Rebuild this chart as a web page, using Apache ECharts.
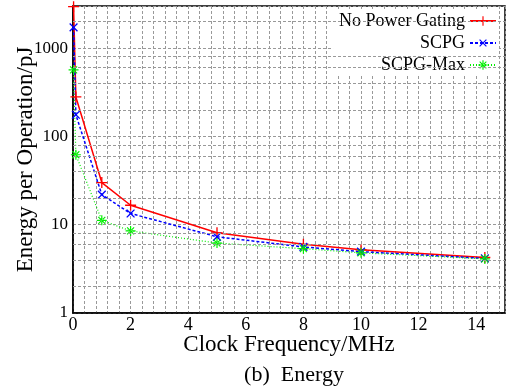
<!DOCTYPE html>
<html>
<head>
<meta charset="utf-8">
<script src="https://cdn.jsdelivr.net/npm/echarts@6/dist/echarts.min.js"></script>
<style>
  html, body { margin: 0; padding: 0; background: #fff; }
  #chart { width: 510px; height: 388px; }
</style>
</head>
<body>
<div id="chart"></div>
<script>
// clock frequency (MHz)
var freq = [0.02, 0.1, 1, 2, 5, 8, 10, 14.3];
// energy per operation (pJ)
var noGating = [2950, 280, 30, 16.6, 8.1, 6.0, 5.2, 4.25];
var scpg = [1720, 176, 21.9, 13.4, 7.3, 5.6, 4.95, 4.15];
var scpgMax = [567, 62, 11.2, 8.5, 6.2, 5.35, 4.8, 4.1];

var xTicks = [0, 2, 4, 6, 8, 10, 12, 14];
var yTicks = [1, 10, 100, 1000];
var yMinor = [2, 4, 6, 8, 20, 40, 60, 80, 200, 400, 600, 800, 2000];

var serif = '"Liberation Serif", "DejaVu Serif", serif';
var gridLine = { color: '#999', width: 1, type: [3, 2] };

// gnuplot style point shapes
var plusPath = 'path://M-0.6,-5H0.6V-0.6H5V0.6H0.6V5H-0.6V0.6H-5V-0.6H-0.6Z';
var starPath = 'path://M-0.6,-5H0.6V-0.6H5V0.6H0.6V5H-0.6V0.6H-5V-0.6H-0.6Z' +
    'M-3.9,-3.1L-3.1,-3.9L3.9,3.1L3.1,3.9Z' +
    'M3.9,-3.1L3.1,-3.9L-3.9,3.1L-3.1,3.9Z';

function pairs(ys) {
    var arr = [];
    for (var i = 0; i < freq.length; i++) {
        arr.push([freq[i], ys[i]]);
    }
    return arr;
}

var mychart = echarts.init(document.getElementById('chart'));
var option = {
    animation: false,
    backgroundColor: '#fff',
    title: {
        text: '(b)  Energy',
        left: 289,
        top: 359,
        textAlign: 'center',
        textStyle: { fontFamily: serif, fontSize: 22, fontWeight: 'normal', color: '#000' }
    },
    grid: {
        left: 73,
        right: 5,
        top: 6,
        bottom: 75,
        containLabel: false,
        outerBoundsMode: 'none',
        show: true,
        borderColor: '#000',
        borderWidth: 1.5
    },
    legend: {
        data: ['No Power Gating', 'SCPG', 'SCPG-Max'],
        orient: 'vertical',
        align: 'right',
        right: 11,
        top: 10,
        padding: [2, 2, 2, 6],
        itemGap: 4,
        itemWidth: 26,
        itemHeight: 12,
        backgroundColor: '#fff',
        textStyle: { fontFamily: serif, fontSize: 18, color: '#000', lineHeight: 18 }
    },
    xAxis: {
        type: 'value',
        min: 0,
        max: 15,
        interval: 0.4,
        name: 'Clock Frequency/MHz',
        nameLocation: 'middle',
        nameGap: 20,
        nameMoveOverlap: false,
        nameTextStyle: { fontFamily: serif, fontSize: 23, color: '#000' },
        axisLine: { lineStyle: { color: '#000', width: 1.5 } },
        axisTick: { show: false },
        axisLabel: {
            interval: 0,
            margin: 3,
            fontFamily: serif,
            fontSize: 18,
            color: '#000',
            formatter: function (v) {
                var r = Math.round(v);
                return (Math.abs(v - r) < 1e-6 && xTicks.indexOf(r) >= 0) ? String(r) : '';
            }
        },
        splitLine: { show: true, lineStyle: gridLine }
    },
    yAxis: {
        type: 'log',
        logBase: 10,
        min: 1,
        max: 3000,
        name: 'Energy per Operation/pJ',
        nameLocation: 'middle',
        nameGap: 36,
        nameMoveOverlap: false,
        nameTextStyle: { fontFamily: serif, fontSize: 23, color: '#000' },
        axisLine: { show: true, lineStyle: { color: '#000', width: 1.5 } },
        axisTick: { show: false },
        axisLabel: {
            margin: 5,
            fontFamily: serif,
            fontSize: 17,
            color: '#000',
            formatter: function (v) {
                return yTicks.indexOf(Math.round(v)) >= 0 ? String(Math.round(v)) : '';
            }
        },
        splitLine: { show: true, lineStyle: gridLine }
    },
    series: [
        {
            // only carries the minor log grid lines
            name: 'minor',
            type: 'line',
            data: [],
            z: 1,
            silent: true,
            markLine: {
                silent: true,
                symbol: ['none', 'none'],
                label: { show: false },
                lineStyle: gridLine,
                data: yMinor.map(function (v) { return { yAxis: v }; })
            }
        },
        {
            name: 'No Power Gating',
            type: 'line',
            data: pairs(noGating),
            symbol: plusPath,
            symbolSize: 11,
            itemStyle: { color: '#ff0000' },
            lineStyle: { color: '#ff0000', width: 1.5 }
        },
        {
            name: 'SCPG',
            type: 'line',
            data: pairs(scpg),
            symbol: plusPath,
            symbolSize: 11,
            symbolRotate: 45,
            itemStyle: { color: '#0000ff' },
            lineStyle: { color: '#0000ff', width: 1.5, type: [3, 2] }
        },
        {
            name: 'SCPG-Max',
            type: 'line',
            data: pairs(scpgMax),
            symbol: starPath,
            symbolSize: 10,
            itemStyle: { color: '#00ee00' },
            lineStyle: { color: '#00ee00', width: 1.2, type: [1, 2] }
        }
    ]
};
mychart.setOption(option);
</script>
</body>
</html>
